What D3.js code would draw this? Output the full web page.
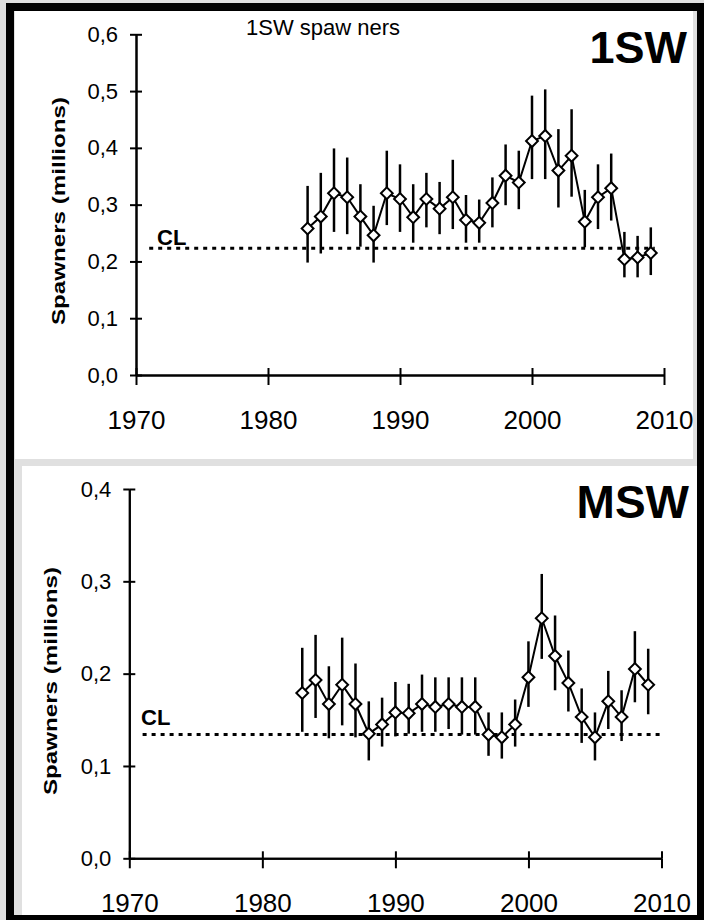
<!DOCTYPE html>
<html>
<head>
<meta charset="utf-8">
<script src="https://cdn.jsdelivr.net/npm/d3@7"></script>
<style>
  html, body { margin: 0; padding: 0; background: #dedede; }
  svg { display: block; font-family: "Liberation Sans", Arial, sans-serif; }
</style>
</head>
<body>
<svg id="chart" width="704" height="920"></svg>
<script>
// years with estimates
const years = [1983, 1984, 1985, 1986, 1987, 1988, 1989, 1990, 1991, 1992, 1993, 1994, 1995, 1996,
               1997, 1998, 1999, 2000, 2001, 2002, 2003, 2004, 2005, 2006, 2007, 2008, 2009];

// 1SW spawners (millions): estimate, lower, upper
const sw1Est  = [0.258, 0.279, 0.320, 0.313, 0.279, 0.246, 0.320, 0.310, 0.278, 0.310, 0.293, 0.313, 0.273, 0.268,
                 0.303, 0.351, 0.339, 0.412, 0.421, 0.360, 0.386, 0.270, 0.313, 0.329, 0.204, 0.207, 0.215];
const sw1Low  = [0.198, 0.214, 0.252, 0.248, 0.226, 0.198, 0.264, 0.252, 0.233, 0.260, 0.248, 0.257, 0.233, 0.233,
                 0.260, 0.299, 0.292, 0.345, 0.345, 0.295, 0.314, 0.225, 0.257, 0.272, 0.172, 0.172, 0.176];
const sw1High = [0.333, 0.356, 0.399, 0.383, 0.336, 0.298, 0.395, 0.371, 0.336, 0.356, 0.340, 0.379, 0.317, 0.309,
                 0.348, 0.406, 0.395, 0.492, 0.503, 0.433, 0.468, 0.326, 0.371, 0.390, 0.252, 0.245, 0.260];

// MSW spawners (millions)
const mswEst  = [0.179, 0.193, 0.167, 0.188, 0.167, 0.135, 0.145, 0.158, 0.157, 0.167, 0.164, 0.167, 0.164, 0.164,
                 0.134, 0.131, 0.145, 0.196, 0.260, 0.219, 0.190, 0.153, 0.131, 0.170, 0.153, 0.205, 0.188];
const mswLow  = [0.137, 0.152, 0.130, 0.144, 0.131, 0.106, 0.121, 0.132, 0.135, 0.137, 0.137, 0.140, 0.134, 0.134,
                 0.111, 0.108, 0.121, 0.164, 0.216, 0.182, 0.159, 0.125, 0.106, 0.140, 0.127, 0.169, 0.156];
const mswHigh = [0.228, 0.242, 0.208, 0.239, 0.211, 0.170, 0.174, 0.191, 0.189, 0.199, 0.196, 0.196, 0.196, 0.196,
                 0.158, 0.158, 0.172, 0.235, 0.308, 0.263, 0.225, 0.184, 0.158, 0.203, 0.182, 0.246, 0.227];

// conservation limits
const sw1CL = 0.223;
const mswCL = 0.134;

const xTicks = [1970, 1980, 1990, 2000, 2010];
const sw1YTicks = [0.0, 0.1, 0.2, 0.3, 0.4, 0.5, 0.6];
const mswYTicks = [0.0, 0.1, 0.2, 0.3, 0.4];

const comma = d3.formatLocale({decimal: ",", thousands: ".", grouping: [3], currency: ["", ""]}).format(".1f");

const svg = d3.select("#chart");

// frame and panels
svg.append("rect").attr("width", 704).attr("height", 920).attr("fill", "#dedede");
svg.append("rect").attr("x", 6).attr("y", 3).attr("width", 698).attr("height", 917).attr("fill", "#000");
svg.append("rect").attr("x", 14).attr("y", 11).attr("width", 683).attr("height", 904).attr("fill", "#e0e0e0");
svg.append("rect").attr("x", 15).attr("y", 11).attr("width", 678).attr("height", 448).attr("fill", "#fff");
svg.append("rect").attr("x", 22).attr("y", 466).attr("width", 675).attr("height", 449).attr("fill", "#fff");

const defs = svg.append("defs");
defs.append("clipPath").attr("id", "clipLow")
    .append("rect").attr("x", 22).attr("y", 466).attr("width", 675).attr("height", 449);

function drawPanel(p) {
    const g = svg.append("g").attr("clip-path", p.clip ? `url(#${p.clip})` : null);
    const x = d3.scaleLinear().domain([1970, 2010]).range([p.left, p.right]);
    const y = d3.scaleLinear().domain([0, p.yMax]).range([p.bottom, p.top]);

    // y axis (ticks cross the axis line)
    const ya = g.append("g").attr("transform", `translate(${p.left},0)`)
        .call(d3.axisLeft(y).tickValues(p.yTicks).tickFormat(comma).tickSizeInner(6).tickSizeOuter(0).tickPadding(12));
    g.append("g").attr("transform", `translate(${p.left},0)`)
        .call(d3.axisRight(y).tickValues(p.yTicks).tickFormat("").tickSizeInner(6).tickSizeOuter(0));
    ya.selectAll("text").style("font-size", "22px").attr("fill", "#000");

    // x axis
    const xa = g.append("g").attr("transform", `translate(0,${p.bottom})`)
        .call(d3.axisBottom(x).tickValues(xTicks).tickFormat(d3.format("d")).tickSizeInner(10).tickSizeOuter(0));
    g.append("g").attr("transform", `translate(0,${p.bottom})`)
        .call(d3.axisTop(x).tickValues(xTicks).tickFormat("").tickSizeInner(7).tickSizeOuter(0));
    xa.selectAll("text").style("font-size", "26px").attr("fill", "#000").attr("y", 54).attr("dy", 0);

    g.selectAll(".domain, .tick line").attr("stroke", "#000").attr("stroke-width", 2);

    // y label
    g.append("text")
        .attr("transform", `translate(${p.labelX},${p.labelY}) rotate(-90)`)
        .attr("text-anchor", "middle")
        .attr("textLength", 228).attr("lengthAdjust", "spacingAndGlyphs")
        .style("font-size", "19px").style("font-weight", "bold")
        .text("Spawners (millions)");

    // conservation limit
    g.append("line")
        .attr("x1", x(1971)).attr("x2", x(p.clEnd))
        .attr("y1", y(p.cl)).attr("y2", y(p.cl))
        .attr("stroke", "#000").attr("stroke-width", 3).attr("stroke-dasharray", "4,5");
    g.append("text").attr("x", p.clX).attr("y", p.clY)
        .style("font-size", "22px").style("font-weight", "bold").text("CL");

    const data = years.map((yr, i) => ({yr, v: p.est[i], lo: p.low[i], hi: p.high[i]}));

    g.append("g").selectAll("line").data(data).join("line")
        .attr("x1", d => x(d.yr)).attr("x2", d => x(d.yr))
        .attr("y1", d => y(d.lo)).attr("y2", d => y(d.hi))
        .attr("stroke", "#000").attr("stroke-width", 2.5);

    g.append("path").datum(data)
        .attr("fill", "none").attr("stroke", "#000").attr("stroke-width", 2)
        .attr("d", d3.line().x(d => x(d.yr)).y(d => y(d.v)));

    g.append("g").selectAll("path").data(data).join("path")
        .attr("transform", d => `translate(${x(d.yr)},${y(d.v)}) rotate(45)`)
        .attr("d", d3.symbol(d3.symbolSquare, 70))
        .attr("fill", "#fff").attr("stroke", "#000").attr("stroke-width", 2);

    // panel title
    g.append("text").attr("x", p.titleX).attr("y", p.titleY).attr("text-anchor", "end")
        .style("font-size", p.titleSize + "px").style("font-weight", "bold").text(p.title);
    return g;
}

const top1 = drawPanel({
    left: 136, right: 664, top: 34.3, bottom: 375, yMax: 0.6, yTicks: sw1YTicks,
    est: sw1Est, low: sw1Low, high: sw1High, cl: sw1CL, clEnd: 2009.3, clX: 157, clY: 245,
    labelX: 65, labelY: 211, title: "1SW", titleX: 687, titleY: 63, titleSize: 45
});
top1.append("text").attr("x", 323).attr("y", 35).attr("text-anchor", "middle")
    .style("font-size", "22px").text("1SW spaw ners");

drawPanel({
    left: 129.3, right: 661.5, top: 489, bottom: 858.3, yMax: 0.4, yTicks: mswYTicks,
    est: mswEst, low: mswLow, high: mswHigh, cl: mswCL, clEnd: 2010, clX: 141, clY: 725,
    labelX: 57, labelY: 681, title: "MSW", titleX: 689, titleY: 518, titleSize: 46, clip: "clipLow"
});
</script>
</body>
</html>
